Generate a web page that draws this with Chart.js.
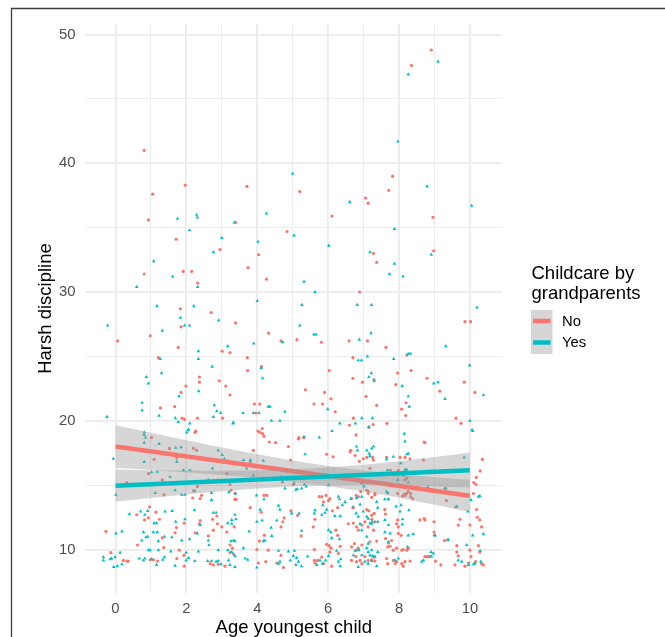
<!DOCTYPE html>
<html>
<head>
<meta charset="utf-8">
<script src="https://cdn.jsdelivr.net/npm/chart.js@4.4.1/dist/chart.umd.min.js"></script>
<style>
  html, body { margin: 0; padding: 0; background: #fff; overflow: hidden; }
  #wrap { position: relative; width: 665px; height: 637px; }
</style>
</head>
<body>
<div id="wrap"><canvas id="myChart"></canvas></div>
<script>
// groups and labels
const groups = ['No', 'Yes'];
const groupColors = ['#F8766D', '#00BFC4'];
const legendTitle = ['Childcare by', 'grandparents'];
const xTitle = 'Age youngest child';
const yTitle = 'Harsh discipline';

const noObs = [
  [0.81,41.0],[1.05,37.6],[0.93,35.6],[0.81,31.4],[0.06,26.2],[0.98,26.6],[1.71,34.1],[1.97,38.3],[1.91,31.6],[2.15,31.6],
  [2.32,30.7],[1.83,28.7],[1.85,27.3],[1.77,25.7],[2.70,28.4],[2.93,23.1],[2.95,33.3],[3.01,25.4],[3.23,25.3],[3.39,27.6],
  [3.39,35.4],[3.71,38.2],[3.74,31.9],[3.72,24.9],[3.73,23.9],[4.04,32.9],[4.26,31.0],[4.32,26.8],[4.84,34.7],[5.20,37.8],
  [5.12,26.3],[4.67,26.2],[6.11,35.9],[5.81,26.1],[6.59,26.2],[6.70,24.9],[6.89,30.0],[7.06,37.3],[7.13,36.9],[7.28,33.0],
  [7.37,32.3],[7.11,26.2],[7.63,25.7],[7.71,37.9],[7.82,39.0],[8.35,47.6],[8.91,48.8],[8.96,35.8],[8.98,33.2],[8.79,23.3],
  [9.15,22.3],[9.86,27.7],[10.02,27.7],[9.84,23.0],[10.14,22.2],[8.34,23.9],[7.96,23.7],[8.20,21.4],[6.70,23.3],[7.07,21.9],
  [6.97,23.0],[5.84,21.3],[5.90,22.2],[6.08,21.7],[5.36,22.4],[3.92,21.3],[4.07,21.3],[3.23,22.0],[1.99,22.7],[1.85,22.2],
  [2.37,23.4],[2.37,23.0],[1.67,21.1],[1.27,21.0],[1.21,24.9],[1.02,18.7],[1.88,20.2],[2.27,19.2],[4.52,18.3],[4.14,19.4],
  [4.19,18.8],[6.62,17.6],[6.79,18.9],[6.71,20.2],[7.15,19.5],[7.27,19.7],[7.37,21.2],[7.66,19.8],[8.07,20.9],[8.19,20.4],
  [7.91,22.8],[8.73,18.3],[9.61,20.2],[9.75,19.8],[10.35,17.0],[10.29,16.1],[10.18,15.6],[10.11,15.2],[6.20,20.7],[6.14,17.2],
  [5.96,17.4],[4.88,18.0],[5.18,18.7],[5.31,18.7],[4.02,19.2],[3.02,20.2],[2.31,20.2],[1.95,20.1],[4.12,24.2],[8.22,25.1],
  [6.03,23.9],[7.30,23.1],
  [1.09,17.0],[0.93,15.9],[0.32,15.2],[1.32,15.4],[1.52,17.85],[1.73,17.1],[2.20,17.85],[2.29,17.7],[2.24,19.1],[2.31,14.9],
  [2.43,14.2],[2.39,13.95],[2.20,14.55],[3.14,15.9],[3.26,14.6],[3.37,14.35],[3.40,13.9],[3.89,17.7],[3.80,16.8],[4.08,19.1],
  [4.15,19.0],[4.34,18.35],[4.69,15.65],[4.71,15.25],[4.94,16.95],[4.27,14.2],[3.96,20.6],[3.11,22.7],
  [5.16,18.6],[5.60,21.3],[5.75,14.1],[5.82,14.1],[5.94,14.2],[5.87,13.7],[6.01,13.8],[6.05,13.95],[6.60,19.65],[6.64,17.7],
  [6.76,17.3],[6.88,16.85],[6.99,17.05],[7.09,17.15],[7.18,16.3],[7.26,17.15],[7.28,16.95],[6.79,14.2],[6.85,14.1],[6.66,13.95],
  [7.09,14.6],[7.13,14.5],[6.92,14.5],[7.23,14.05],[7.32,14.35],[7.65,17.15],[7.75,16.15],[8.03,17.15],[8.17,17.15],[8.31,17.05],
  [7.98,16.15],[8.12,15.95],[8.17,15.4],[8.22,15.55],[8.26,14.5],[8.33,14.1],[8.17,14.2],[8.69,16.95],[8.71,18.35],[9.30,14.75],
  [9.60,13.3],
  [1.37,14.25],[2.18,14.0],[0.60,12.7],[0.96,13.3],[1.14,12.9],[0.82,12.3],[0.93,12.45],[1.24,12.35],[1.72,11.7],[1.94,12.05],
  [2.39,12.25],[2.37,12.0],[2.86,12.6],[2.74,12.35],[2.88,12.0],[3.00,11.75],[-0.27,11.4],[1.32,10.9],[0.62,10.35],[1.68,11.3],
  [2.25,11.3],[2.62,11.05],[2.76,11.5],[-0.13,9.75],[1.36,10.15],[1.80,9.95],[1.93,9.55],[0.22,9.15],[0.32,9.1],[0.36,9.1],
  [0.98,9.2],[1.07,9.2],[1.19,9.1],[1.73,9.3],[1.94,8.7],[2.67,8.9],[2.76,8.8],[2.90,8.85],
  [3.23,15.05],[3.37,13.9],[4.19,14.2],[5.02,15.05],[3.80,13.25],[3.35,11.75],[3.14,11.35],[4.11,12.9],[4.76,12.45],[4.72,12.15],
  [4.67,11.75],[4.95,13.0],[5.14,12.65],[5.63,12.35],[6.12,13.0],[5.58,11.75],[5.24,11.05],[6.22,11.5],[6.27,11.1],[6.27,13.25],
  [6.57,12.0],[6.71,12.05],[6.80,11.75],[6.95,11.9],[6.85,11.5],[4.20,11.1],[4.06,10.65],[3.23,10.35],[3.30,10.1],[3.23,9.75],
  [3.33,9.65],[3.99,10.0],[4.31,9.95],[4.67,9.55],[4.74,8.6],[4.55,8.95],[4.24,9.05],[4.03,8.95],[5.61,10.0],[5.61,9.15],
  [5.70,9.15],[5.82,9.4],[5.63,8.95],[5.87,8.9],[5.96,10.4],[6.03,10.3],[6.08,10.1],[6.05,9.8],[6.10,8.7],[6.34,10.25],
  [6.29,9.7],[6.66,10.2],[6.74,10.45],[6.80,9.95],[6.85,10.1],[6.95,10.35],[6.90,9.15],[6.66,9.15],[6.78,9.45],[6.80,9.05],
  [6.95,8.9],[3.09,8.7],[6.70,13.25],
  [7.13,14.35],[7.32,14.25],[7.96,14.35],[8.10,14.15],[8.15,14.3],[8.22,14.35],[8.33,14.35],[8.39,13.95],[10.17,15.05],[10.19,13.1],
  [10.21,12.5],[10.10,14.35],[9.34,13.8],[7.60,13.1],[7.62,12.75],[7.09,13.1],[7.15,13.0],[7.23,12.65],[7.30,12.8],[7.04,12.15],
  [7.23,12.35],[7.32,12.15],[7.96,12.3],[7.93,12.0],[7.98,11.75],[8.59,12.3],[8.71,12.4],[8.73,12.3],[8.99,12.15],[9.72,12.35],
  [9.67,11.9],[10.28,12.3],[10.33,11.75],[10.00,11.9],[7.13,11.75],[7.28,11.5],[7.37,10.65],[7.18,10.6],[7.62,10.85],[7.70,10.5],
  [7.68,10.2],[7.75,10.25],[7.79,10.7],[7.84,9.95],[7.93,10.1],[8.08,9.95],[8.12,10.0],[8.22,9.95],[8.26,10.1],[7.98,11.25],
  [8.06,11.1],[9.00,11.1],[8.99,11.35],[9.28,10.7],[9.37,10.75],[9.63,10.3],[9.63,9.8],[9.67,9.5],[10.00,9.95],[10.03,9.45],
  [10.24,10.3],[10.28,9.8],[7.04,9.45],[7.13,9.15],[7.23,9.2],[7.30,9.4],[7.32,9.1],[7.65,9.3],[7.68,8.9],[7.84,9.15],
  [7.89,8.9],[7.93,9.05],[8.08,8.9],[8.12,8.7],[8.17,9.05],[8.31,9.1],[8.73,9.45],[8.78,9.45],[8.83,9.45],[8.87,9.45],
  [9.03,9.1],[9.18,8.8],[9.58,8.8],[9.86,8.7],[9.96,8.95],[10.16,9.05],[10.33,8.9],[10.38,8.8]
];

const yesObs = [
  [-0.22,27.4],[-0.24,20.3],[0.60,30.4],[1.08,32.4],[1.17,28.9],[1.32,27.0],[1.26,24.8],[0.87,23.4],[1.30,23.7],[0.93,22.9],
  [0.75,21.4],[0.75,20.8],[1.61,31.2],[1.75,35.7],[2.09,34.8],[2.29,36.0],[2.31,35.8],[2.32,30.4],[2.21,28.9],[1.83,28.0],
  [1.95,27.4],[2.09,27.4],[1.79,21.9],[2.34,25.4],[2.34,24.8],[2.35,22.3],[2.76,33.1],[3.00,34.2],[2.73,24.2],[2.91,27.8],
  [2.79,21.2],[3.35,35.4],[3.17,25.8],[3.31,19.8],[4.02,33.9],[3.90,26.0],[4.00,29.3],[4.11,24.1],[4.15,23.3],[4.26,36.1],
  [4.31,21.1],[4.05,20.6],[3.89,20.6],[4.72,26.1],[4.78,20.7],[5.00,39.2],[5.04,34.4],[5.32,30.8],[5.26,29.0],[5.20,27.4],
  [5.60,26.7],[5.66,26.7],[5.63,30.0],[6.02,33.6],[6.61,37.0],[6.82,29.0],[6.88,26.3],[6.85,24.7],[6.94,24.7],[7.18,33.1],
  [7.21,26.8],[7.22,29.0],[7.11,25.0],[7.22,23.7],[7.29,23.2],[7.15,23.4],[7.73,31.4],[7.87,34.9],[7.87,32.2],[7.97,41.7],
  [8.11,31.2],[7.85,24.8],[8.26,46.9],[8.26,25.2],[8.32,25.2],[8.09,22.7],[8.26,21.9],[8.29,21.1],[8.79,38.2],[8.91,32.9],
  [9.10,47.9],[9.10,23.0],[8.98,22.9],[9.32,25.8],[9.30,21.7],[10.05,36.7],[9.99,24.3],[10.20,28.8],[10.38,22.0],[10.00,20.0],
  [10.06,19.3],[5.75,18.7],[5.99,20.9],[6.11,19.2],[6.33,19.8],[6.77,19.8],[6.95,20.2],[7.25,20.2],[7.15,19.5],[4.40,20.0],
  [4.64,20.0],[3.60,20.6],[2.97,20.6],[2.05,19.3],[2.01,19.1],[1.69,20.2],[1.77,19.9],[0.81,19.1],[0.85,18.7],[1.23,20.4],
  [-0.06,17.05],[0.81,18.9],[0.81,18.3],[0.69,17.65],[1.23,18.2],[1.18,16.05],[1.02,16.0],[0.81,16.8],[1.54,15.65],[1.70,17.9],
  [1.85,17.95],[1.73,16.8],[1.92,16.15],[1.68,14.6],[2.10,16.15],[2.24,14.55],[2.06,19.3],[2.10,19.8],[2.62,15.4],[2.90,17.7],
  [3.01,17.35],[3.07,17.05],[2.74,16.3],[2.88,15.4],[3.17,16.85],[3.70,16.3],[3.61,16.95],[3.81,16.95],[3.89,15.75],[4.17,16.9],
  [4.36,21.1],[3.33,19.85],[2.76,20.3],[2.86,20.75],
  [5.04,15.15],[5.13,14.7],[5.25,14.75],[5.38,14.9],[5.35,17.4],[5.32,18.75],[6.29,14.1],[6.32,13.9],[6.64,13.95],[6.80,14.0],
  [6.80,18.0],[6.83,17.7],[7.09,17.7],[7.16,17.45],[7.18,17.25],[7.23,17.85],[7.28,18.0],[6.95,15.15],[7.01,14.9],[7.65,17.0],
  [7.67,16.15],[7.84,17.2],[7.65,14.5],[7.70,13.9],[8.05,16.7],[8.17,16.2],[8.22,16.2],[8.12,15.75],[7.96,15.4],[8.17,18.4],
  [8.15,19.0],[8.22,17.4],[8.26,17.45],[9.84,17.15],[10.08,19.2],[9.94,12.95],[10.28,14.15],[10.24,14.1],[10.38,11.2],[10.08,11.1],
  [0.01,14.25],[1.12,14.4],[1.87,14.25],[1.96,14.25],[2.71,14.4],[2.71,13.85],[0.39,12.75],[0.71,12.95],[0.91,13.0],[0.83,12.7],
  [1.40,12.95],[1.60,13.0],[1.09,12.05],[1.16,12.05],[1.70,12.15],[1.96,12.35],[2.23,13.05],[2.39,11.9],[2.76,12.85],[2.84,12.85],
  [0.01,11.25],[0.18,11.4],[0.79,11.35],[0.86,10.95],[0.91,11.0],[1.07,11.35],[1.18,11.35],[1.21,10.65],[1.38,11.0],[0.74,10.7],
  [1.59,10.95],[1.87,10.7],[2.09,10.8],[2.31,11.25],[2.62,10.7],[2.64,10.35],[0.13,9.75],[0.93,9.95],[0.98,9.95],[1.21,9.95],
  [1.56,9.85],[1.99,9.75],[2.34,9.85],[-0.34,9.4],[-0.34,9.15],[-0.15,9.25],[-0.11,9.3],[-0.01,9.4],[-0.05,8.65],[0.05,8.7],
  [0.18,8.85],[0.67,9.3],[0.79,9.15],[0.83,9.3],[1.02,9.25],[1.16,8.8],[1.33,9.2],[1.38,9.4],[1.68,8.75],[1.99,9.15],
  [2.06,9.35],[2.24,9.1],[2.60,9.1],[2.71,9.1],[2.84,9.05],[2.90,9.1],[2.98,8.85],[2.90,9.95],
  [3.20,14.45],[3.39,14.35],[3.98,14.2],[4.19,13.9],[4.78,14.75],[5.09,14.65],[5.33,15.05],[5.85,13.45],[6.01,15.0],[5.96,13.1],
  [6.48,13.7],[6.40,13.45],[6.95,14.1],[6.90,13.5],[3.37,12.7],[3.28,12.3],[3.17,12.05],[3.28,12.0],[3.40,12.35],[4.08,13.1],
  [3.99,12.15],[4.14,12.25],[3.77,11.4],[4.60,13.4],[4.64,13.1],[4.55,12.25],[4.39,11.7],[4.97,12.8],[5.18,12.8],[5.63,13.05],
  [5.61,12.8],[5.82,12.7],[5.91,12.85],[6.19,12.6],[6.34,12.6],[5.25,11.45],[6.01,11.5],[6.08,11.35],[6.10,10.9],[6.32,10.8],
  [6.71,13.3],[6.79,12.8],[6.85,12.55],[6.99,12.95],[6.90,12.0],[6.95,11.5],[4.41,11.05],[4.22,10.7],[4.17,10.65],[3.26,10.65],
  [3.33,10.7],[3.37,10.65],[3.17,9.95],[3.28,9.8],[3.37,9.5],[3.66,9.3],[3.73,9.2],[3.61,10.1],[4.60,9.9],[4.88,9.85],
  [4.93,9.15],[5.02,9.5],[5.11,9.35],[4.60,8.9],[4.64,9.05],[5.05,9.9],[5.09,8.8],[5.16,9.05],[5.25,8.7],[5.42,9.45],
  [5.68,8.8],[5.77,9.15],[5.93,9.15],[5.84,8.9],[6.01,9.5],[6.29,9.05],[6.34,8.7],[6.24,9.9],[6.36,9.25],[6.71,9.55],
  [6.76,9.9],[6.87,9.95],[6.95,9.55],[6.85,8.65],[3.19,9.15],[3.23,8.8],[3.37,8.65],[3.99,8.6],
  [7.68,14.4],[8.26,15.2],[8.81,14.85],[9.32,14.75],[9.63,13.35],[10.03,13.85],[7.37,13.7],[7.60,13.9],[7.70,13.9],[7.40,13.25],
  [7.92,13.35],[8.06,13.45],[8.03,12.95],[8.28,13.05],[7.09,12.55],[7.13,12.4],[7.25,12.15],[7.40,12.15],[7.18,12.05],[7.23,12.0],
  [7.60,12.3],[7.70,11.9],[8.10,12.35],[8.09,11.95],[7.60,11.35],[7.75,11.25],[7.70,10.6],[8.26,11.1],[8.40,11.2],[9.02,11.1],
  [7.09,11.0],[7.13,10.45],[7.09,10.1],[7.23,9.95],[7.40,9.8],[7.32,9.45],[7.25,9.5],[7.13,9.8],[7.18,9.55],[7.04,9.05],
  [7.13,8.9],[7.23,9.1],[7.37,8.7],[8.24,10.2],[8.90,9.8],[8.97,9.7],[9.39,10.75],[9.91,10.35],[10.29,9.9],[10.31,9.05],
  [8.64,9.05],[8.69,9.15],[8.92,9.45],[9.67,9.15],[9.77,9.05],[9.96,8.8],[10.10,8.85],[10.14,8.9],[7.89,9.15],[7.98,9.3]
];

// fitted lines (ends) and 95% bands
const fitX = [0, 10];
const noFit = [18.0, 14.17];
const yesFit = [14.96, 16.16];
const bandX = [0, 1, 2, 3, 4, 5, 6, 7, 8, 9, 10];
const noHigh = [19.66, 19.07, 18.48, 17.92, 17.39, 16.91, 16.48, 16.14, 15.86, 15.62, 15.42];
const noLow = [16.34, 16.17, 15.98, 15.78, 15.55, 15.27, 14.92, 14.50, 14.02, 13.48, 12.92];
const yesHigh = [16.22, 16.16, 16.13, 16.11, 16.14, 16.23, 16.38, 16.59, 16.85, 17.19, 17.51];
const yesLow = [13.70, 14.00, 14.28, 14.53, 14.74, 14.89, 14.98, 15.01, 15.00, 14.89, 14.81];

const bandFill = 'rgba(153,153,153,0.4)';
const fontFam = '"Liberation Sans", Arial, sans-serif';

Chart.defaults.font.family = fontFam;

const toXY = (xs, ys) => xs.map((x, i) => ({x: x, y: ys[i]}));
const obsXY = (arr) => arr.map(p => ({x: p[0], y: p[1]}));

// legend + outer frame (top and left only), drawn on top
const sideLegend = {
    id: 'sideLegend',
    afterDraw(chart) {
        const ctx = chart.ctx;
        ctx.save();
        ctx.fillStyle = '#000';
        ctx.font = '18.5px ' + fontFam;
        ctx.textBaseline = 'alphabetic';
        ctx.textAlign = 'left';
        ctx.fillText(legendTitle[0], 531.5, 279);
        ctx.fillText(legendTitle[1], 531.5, 298.5);

        ctx.fillStyle = bandFill;
        ctx.fillRect(531, 310, 21.5, 44);
        groups.forEach((g, i) => {
            const y = 321 + i * 21.5;
            ctx.strokeStyle = groupColors[i];
            ctx.lineWidth = 4.5;
            ctx.beginPath();
            ctx.moveTo(533, y);
            ctx.lineTo(550.5, y);
            ctx.stroke();
            ctx.fillStyle = '#000';
            ctx.font = '14.8px ' + fontFam;
            ctx.textBaseline = 'middle';
            ctx.fillText(g, 562, y + 0.5);
        });

        ctx.strokeStyle = '#3c3c3c';
        ctx.lineWidth = 1.3;
        ctx.beginPath();
        ctx.moveTo(11.5, 640);
        ctx.lineTo(11.5, 8.5);
        ctx.lineTo(670, 8.5);
        ctx.stroke();
        ctx.restore();
    }
};

let ctx = document.getElementById('myChart').getContext('2d');

let harshChart = new Chart(ctx, {
    type: 'scatter',
    data: {
        datasets: [
            { type: 'line', label: 'Yes fit', data: toXY(fitX, yesFit), borderColor: groupColors[1], borderWidth: 4.5,
              pointRadius: 0, fill: false, order: 0 },
            { type: 'line', label: 'Yes high', data: toXY(bandX, yesHigh), borderColor: 'rgba(0,0,0,0)', borderWidth: 0,
              pointRadius: 0, fill: '+1', backgroundColor: bandFill, order: 1 },
            { type: 'line', label: 'Yes low', data: toXY(bandX, yesLow), borderColor: 'rgba(0,0,0,0)', borderWidth: 0,
              pointRadius: 0, fill: false, order: 1 },
            { type: 'line', label: 'No fit', data: toXY(fitX, noFit), borderColor: groupColors[0], borderWidth: 4.5,
              pointRadius: 0, fill: false, order: 2 },
            { type: 'line', label: 'No high', data: toXY(bandX, noHigh), borderColor: 'rgba(0,0,0,0)', borderWidth: 0,
              pointRadius: 0, fill: '+1', backgroundColor: bandFill, order: 3 },
            { type: 'line', label: 'No low', data: toXY(bandX, noLow), borderColor: 'rgba(0,0,0,0)', borderWidth: 0,
              pointRadius: 0, fill: false, order: 3 },
            { label: 'Yes', data: obsXY(yesObs), pointStyle: 'triangle', pointRadius: 2.1, borderWidth: 0,
              backgroundColor: groupColors[1], borderColor: groupColors[1], order: 4 },
            { label: 'No', data: obsXY(noObs), pointStyle: 'circle', pointRadius: 1.6, borderWidth: 0,
              backgroundColor: groupColors[0], borderColor: groupColors[0], order: 5 }
        ]
    },
    options: {
        responsive: true,
        maintainAspectRatio: false,
        animation: false,
        events: [],
        layout: { padding: { left: 0, right: 162.5, top: 24, bottom: 0 } },
        plugins: {
            legend: { display: false },
            tooltip: { enabled: false },
            filler: { drawTime: 'beforeDatasetDraw' }
        },
        scales: {
            x: {
                type: 'linear',
                min: -0.86,
                max: 10.92,
                border: { display: false },
                grid: {
                    color: '#EBEBEB',
                    drawTicks: false,
                    lineWidth: c => (c.tick && c.tick.value % 2 === 0) ? 1.8 : 0.9
                },
                ticks: {
                    stepSize: 1,
                    includeBounds: false,
                    padding: 7,
                    color: '#4D4D4D',
                    font: { size: 14.8 },
                    maxRotation: 0,
                    autoSkip: false,
                    callback: v => (v % 2 === 0 ? String(v) : '')
                },
                title: {
                    display: true,
                    text: xTitle,
                    color: '#000',
                    font: { size: 18.5, lineHeight: 1 },
                    padding: { top: 0, bottom: 0 }
                },
                afterFit: scale => { scale.height = 44; }
            },
            y: {
                type: 'linear',
                min: 6.62,
                max: 50.82,
                border: { display: false },
                grid: {
                    color: '#EBEBEB',
                    drawTicks: false,
                    lineWidth: c => (c.tick && c.tick.value % 10 === 0) ? 1.8 : 0.9
                },
                ticks: {
                    stepSize: 5,
                    includeBounds: false,
                    padding: 9.5,
                    color: '#4D4D4D',
                    font: { size: 14.8 },
                    autoSkip: false,
                    callback: v => (v % 10 === 0 ? String(v) : '')
                },
                title: {
                    display: true,
                    text: yTitle,
                    color: '#000',
                    font: { size: 18.5, lineHeight: 1 },
                    padding: { top: 37, bottom: 0 }
                },
                afterFit: scale => { scale.width = 85; }
            }
        }
    },
    plugins: [sideLegend]
});
</script>
</body>
</html>
